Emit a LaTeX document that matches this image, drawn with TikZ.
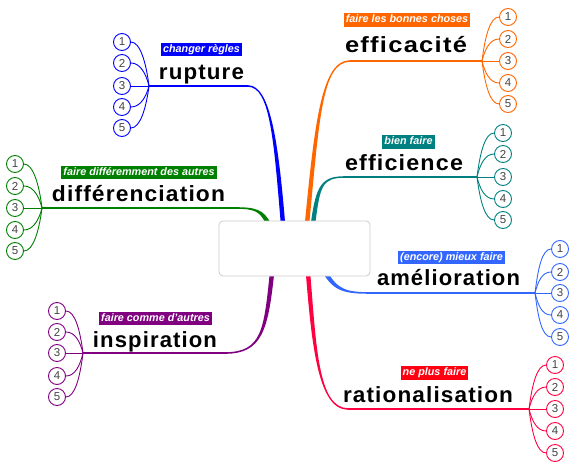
\documentclass[tikz,border=0pt]{standalone}
\usepackage{fontspec}
\setmainfont{Liberation Sans}
\newfontfamily\handfont[LetterSpace=5]{Liberation Sans}
\usepackage{graphicx}
\usetikzlibrary{calc}
\definecolor{cRup}{HTML}{0000FF}
\definecolor{cEff}{HTML}{FF6600}
\definecolor{cEfi}{HTML}{008080}
\definecolor{cAme}{HTML}{3366FF}
\definecolor{cRat}{HTML}{FF0040}
\definecolor{cRatL}{HTML}{FF0010}
\definecolor{cIns}{HTML}{800080}
\definecolor{cDif}{HTML}{008000}
\definecolor{numgray}{HTML}{444444}
\definecolor{boxgray}{HTML}{CCCCCC}
\newcommand\ttlword[2]{\resizebox{#1pt}{\height}{\fontsize{22}{26}\selectfont\handfont\bfseries #2}}
\newcommand\leafset[7]{%
  \coordinate (#1hub) at (#3,#4);
  \pgfmathsetmacro\sgn{#5>#3 ? 1 : -1}
  \foreach \yy [count=\i] in {#7} {
    \node[num=#2] (#1\i) at (#5,\yy) {\i};
    \ifnum\i=3
      \draw[leaf=#2] (#1hub) -- (#1\i.#6);
    \else
      \pgfmathsetmacro\cax{#3+3*\sgn}
      \pgfmathsetmacro\cay{#4+0.55*(\yy-#4)}
      \pgfmathsetmacro\cbx{#5-\sgn*18}
      \draw[leaf=#2] (#1hub) .. controls (\cax,\cay) and (\cbx,\yy) .. (#1\i.#6);
    \fi
  }
}
% tapered trunk: #1 colour, P0=(#2,#3), P1=(#4,#5), P2=(#6,#7), P3=(#8,#9)
\newcommand\taper[9]{%
  \pgfmathsetmacro\ax{#4-#2}\pgfmathsetmacro\ay{#5-#3}%
  \pgfmathsetmacro\al{veclen(\ax,\ay)}%
  \pgfmathsetmacro\nax{-\ay/\al*2.2}\pgfmathsetmacro\nay{\ax/\al*2.2}%
  \pgfmathsetmacro\bx{#8-#6}\pgfmathsetmacro\by{#9-#7}%
  \pgfmathsetmacro\bl{veclen(\bx,\by)}%
  \pgfmathsetmacro\nbx{-\by/\bl*0.8}\pgfmathsetmacro\nby{\bx/\bl*0.8}%
  \pgfmathsetmacro\Pax{#2+\nax}\pgfmathsetmacro\Pay{#3+\nay}%
  \pgfmathsetmacro\Pbx{#4+\nax}\pgfmathsetmacro\Pby{#5+\nay}%
  \pgfmathsetmacro\Pcx{#6+\nbx}\pgfmathsetmacro\Pcy{#7+\nby}%
  \pgfmathsetmacro\Pdx{#8+\nbx}\pgfmathsetmacro\Pdy{#9+\nby}%
  \pgfmathsetmacro\Qax{#2-\nax}\pgfmathsetmacro\Qay{#3-\nay}%
  \pgfmathsetmacro\Qbx{#4-\nax}\pgfmathsetmacro\Qby{#5-\nay}%
  \pgfmathsetmacro\Qcx{#6-\nbx}\pgfmathsetmacro\Qcy{#7-\nby}%
  \pgfmathsetmacro\Qdx{#8-\nbx}\pgfmathsetmacro\Qdy{#9-\nby}%
  \fill[#1] (\Pax,\Pay) .. controls (\Pbx,\Pby) and (\Pcx,\Pcy) .. (\Pdx,\Pdy)
    -- (\Qdx,\Qdy) .. controls (\Qcx,\Qcy) and (\Qbx,\Qby) .. (\Qax,\Qay) -- cycle;
}
\tikzset{
  lbl/.style={fill=#1, text=white, font=\fontsize{10.8}{12}\selectfont\bfseries\itshape, inner xsep=2pt, inner ysep=1.5pt, text height=8.3pt, text depth=2.4pt},
  num/.style={circle, draw=#1, fill=white, line width=0.9pt, minimum size=17pt, inner sep=0pt, font=\fontsize{11.5}{11.5}\selectfont, text=numgray},
  twig/.style={draw=#1, line width=1.6pt},
  leaf/.style={draw=#1, line width=0.9pt},
  ttl/.style={anchor=base, inner sep=0pt},
  centerbox/.style={draw=boxgray, fill=white, line width=0.8pt, rounded corners=4pt, minimum width=151pt, minimum height=55pt}
}
\begin{document}
\begin{tikzpicture}[x={(1pt,0)}, y={(0,-1pt)}]
\useasboundingbox (0,0) rectangle (580,468);
% hubs and leaves
\leafset{rup}{cRup}{149}{86}{122}{east}{42,63,86,107,128}
\leafset{eff}{cEff}{482}{61}{508}{west}{17,39,61,83,104}
\leafset{efi}{cEfi}{477}{177}{503}{west}{133,154,177,199,220}
\leafset{ame}{cAme}{535}{293}{560}{west}{249,272,293,315,337}
\leafset{rat}{cRat}{529}{409}{555}{west}{365,387,409,431,453}
\leafset{ins}{cIns}{83}{353}{57}{east}{311,332,353,376,397}
\leafset{dif}{cDif}{42}{208}{15}{east}{164,186,208,230,251}
% bend coordinates
\coordinate (rupB) at (248,86);
\coordinate (effB) at (350,61);
\coordinate (efiB) at (345,177);
\coordinate (ameB) at (372,293);
\coordinate (ratB) at (348,409);
\coordinate (insB) at (225,353);
\coordinate (difB) at (235,208);
% trunks
\taper{cRup}{283}{224}{276}{140}{270}{86}{248}{86}
\draw[twig=cRup] (rupB) -- (ruphub);
\taper{cEff}{307}{224}{317}{120}{322}{61}{350}{61}
\draw[twig=cEff] (effB) -- (effhub);
\taper{cEfi}{313}{224}{318}{185}{322}{177}{345}{177}
\draw[twig=cEfi] (efiB) -- (efihub);
\taper{cAme}{325}{272}{336}{291}{346}{293}{372}{293}
\draw[twig=cAme] (ameB) -- (amehub);
\taper{cRat}{308}{273}{314}{345}{318}{409}{348}{409}
\draw[twig=cRat] (ratB) -- (rathub);
\taper{cIns}{272}{273}{266}{330}{262}{353}{225}{353}
\draw[twig=cIns] (insB) -- (inshub);
\taper{cDif}{269}{225}{262}{210}{255}{208}{235}{208}
\draw[twig=cDif] (difB) -- (difhub);
% center
\node[centerbox] (c) at (294.5,248.5) {};
% labels
\node[lbl=cRup] (rupL) at (201.5,49.5) {changer règles};
\node[lbl=cEff] (effL) at (407,20) {faire les bonnes choses};
\node[lbl=cEfi] (efiL) at (408.5,142) {bien faire};
\node[lbl=cAme] (ameL) at (451.5,257.5) {(encore) mieux faire};
\node[lbl=cRatL] (ratL) at (434.5,373) {ne plus faire};
\node[lbl=cIns] (insL) at (155.5,318.5) {faire comme d'autres};
\node[lbl=cDif] (difL) at (139,172.5) {faire différemment des autres};
% titles
\node[ttl] (rupT) at (201.5,80) {\ttlword{85}{rupture}};
\node[ttl] (effT) at (406,53) {\ttlword{122}{efficacité}};
\node[ttl] (efiT) at (404,170) {\ttlword{118}{efficience}};
\node[ttl] (ameT) at (448.5,285) {\ttlword{143}{amélioration}};
\node[ttl] (ratT) at (428,402) {\ttlword{170}{rationalisation}};
\node[ttl] (insT) at (155,347) {\ttlword{124}{inspiration}};
\node[ttl] (difT) at (138.5,201) {\ttlword{173}{différenciation}};
\end{tikzpicture}
\end{document}
